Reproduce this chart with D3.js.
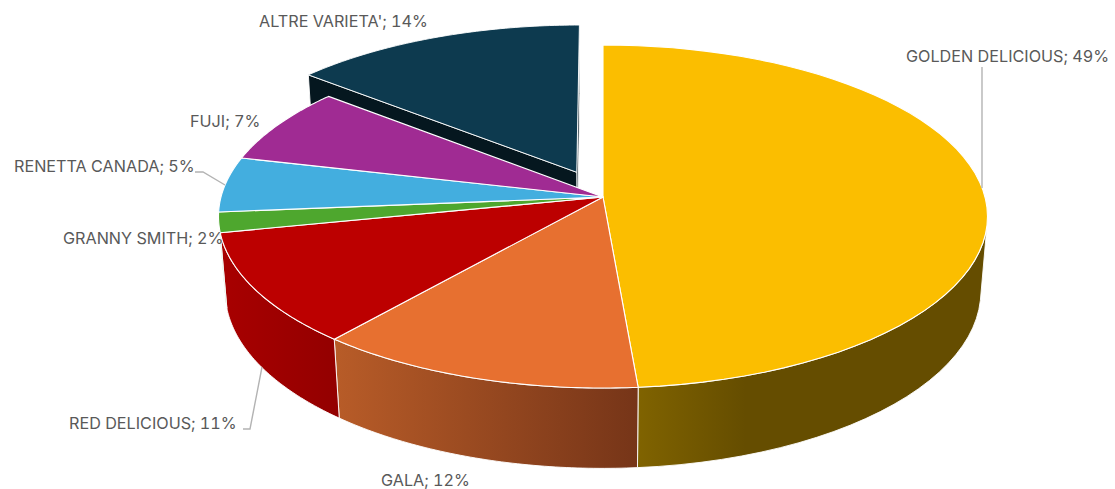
<!DOCTYPE html>
<html>
<head>
<meta charset="utf-8">
<title>Varieta di mele</title>
<style>
  html, body { margin: 0; padding: 0; background: #fff; }
  svg { display: block; }
  text { font-family: Inter, "Open Sans", sans-serif; font-size: 16.2px; font-feature-settings: "tnum"; fill: #595959; }
</style>
<script src="https://d3js.org/d3.v7.min.js" charset="utf-8"></script>
</head>
<body>
<svg width="1115" height="489"></svg>
<script>
  // dati
  var varieties = ["GOLDEN DELICIOUS", "GALA", "RED DELICIOUS", "GRANNY SMITH", "RENETTA CANADA", "FUJI", "ALTRE VARIETA'"];
  var shares = [48.7, 12.4, 10.6, 1.9, 5.2, 7.2, 14.0];
  var exploded = [0, 0, 0, 0, 0, 0, 0.164];

  var topColors = ["#fbbe00", "#e77030", "#bc0000", "#4ea72e", "#43aedf", "#a02b93", "#0d3a4f"];
  var wallColors = [
    [["0%", "#806300"], ["31%", "#654d00"], ["100%", "#654d00"]],
    [["0%", "#b85c28"], ["100%", "#763518"]],
    [["0%", "#a80000"], ["100%", "#930000"]],
    [["0%", "#2c5f1a"], ["100%", "#2c5f1a"]],
    [["0%", "#266380"], ["100%", "#266380"]],
    [["0%", "#5b1853"], ["100%", "#5b1853"]],
    [["0%", "#05171f"], ["100%", "#05171f"]]
  ];

  // posizione delle etichette e linee guida
  var labelPos = [[906, 62], [381, 486], [69, 429], [63, 244], [14, 172], [190, 127], [259, 27]];
  var leaders = [
    [[982, 67], [982, 188]],
    null,
    [[262, 367], [250, 429], [243, 429]],
    null,
    [[195, 172], [203, 172], [225, 185]],
    null,
    null
  ];

  var svg = d3.select("svg");
  var defs = svg.append("defs");

  // proiezione prospettica del disco
  var view = { cx: 603, cy: 197, fx: 382, fy: 169.3, depth: 75.9, p: 0.1137, q: 0.0173 };
  function project(X, Y, Z) {
    var w = 1 + view.p * Y + view.q * Z;
    return [view.cx + view.fx * X / w, view.cy + (view.depth * Z - view.fy * Y) / w];
  }

  var pie = d3.pie().sort(null).value(function (d) { return d; });
  var arcs = pie(shares);

  function offsetOf(d, i) {
    var mid = (d.startAngle + d.endAngle) / 2;
    return [exploded[i] * Math.sin(mid), exploded[i] * Math.cos(mid)];
  }
  function rim(a, off, Z) {
    return project(off[0] + Math.sin(a), off[1] + Math.cos(a), Z);
  }
  function samples(d) {
    return d3.range(0, 61).map(function (k) {
      return d.startAngle + (d.endAngle - d.startAngle) * k / 60;
    });
  }
  var line = d3.line();

  function topFace(d, i) {
    var off = offsetOf(d, i);
    var pts = [project(off[0], off[1], 0)];
    samples(d).forEach(function (a) { pts.push(rim(a, off, 0)); });
    return line(pts) + "Z";
  }

  // solo la parte di parete rivolta verso chi guarda
  function outerWall(d, i) {
    var off = offsetOf(d, i);
    var ang = samples(d).filter(function (a) {
      var t0 = rim(a, off, 0), t1 = rim(a + 0.001, off, 0), b0 = rim(a, off, 1);
      return (t1[0] - t0[0]) * (b0[1] - t0[1]) - (t1[1] - t0[1]) * (b0[0] - t0[0]) < 0;
    });
    if (ang.length < 2) return null;
    var up = ang.map(function (a) { return rim(a, off, 0); });
    var down = ang.map(function (a) { return rim(a, off, 1); }).reverse();
    return line(up.concat(down)) + "Z";
  }
  function radialWall(d, i, a) {
    var off = offsetOf(d, i);
    return line([project(off[0], off[1], 0), rim(a, off, 0), rim(a, off, 1), project(off[0], off[1], 1)]) + "Z";
  }

  wallColors.forEach(function (stops, i) {
    var g = defs.append("linearGradient").attr("id", "wall" + i).attr("x1", 0).attr("x2", 1).attr("y1", 0).attr("y2", 0);
    stops.forEach(function (s) {
      g.append("stop").attr("offset", s[0]).attr("stop-color", s[1]);
    });
  });

  function drawSlice(group, d, i, walls) {
    walls.forEach(function (p) {
      if (p) group.append("path").attr("d", p).attr("fill", "url(#wall" + i + ")")
        .attr("stroke", "#fff").attr("stroke-width", 0.9).attr("stroke-linejoin", "round");
    });
  }

  // prima la fetta staccata, poi il resto della torta sopra
  var back = svg.append("g");
  arcs.forEach(function (d, i) {
    if (!exploded[i]) return;
    drawSlice(back, d, i, [radialWall(d, i, d.endAngle), radialWall(d, i, d.startAngle)]);
    back.append("path").attr("d", topFace(d, i)).attr("fill", topColors[i])
      .attr("stroke", "#fff").attr("stroke-width", 0.9).attr("stroke-linejoin", "round");
  });

  var walls = svg.append("g");
  arcs.forEach(function (d, i) {
    if (exploded[i]) return;
    drawSlice(walls, d, i, [outerWall(d, i)]);
  });

  var tops = svg.append("g");
  arcs.forEach(function (d, i) {
    if (exploded[i]) return;
    tops.append("path").attr("d", topFace(d, i)).attr("fill", topColors[i])
      .attr("stroke", "#fff").attr("stroke-width", 1.1).attr("stroke-linejoin", "round");
  });

  // linee guida
  svg.append("g").selectAll("path")
    .data(leaders.filter(function (l) { return l; }))
    .enter().append("path")
    .attr("d", line)
    .attr("fill", "none")
    .attr("stroke", "#b3b3b3")
    .attr("stroke-width", 1.4);

  // etichette
  var fmt = d3.format(".0f");
  svg.append("g").selectAll("text")
    .data(varieties)
    .enter().append("text")
    .attr("x", function (d, i) { return labelPos[i][0]; })
    .attr("y", function (d, i) { return labelPos[i][1]; })
    .text(function (d, i) { return d + "; " + fmt(shares[i]) + "%"; });
</script>
</body>
</html>
